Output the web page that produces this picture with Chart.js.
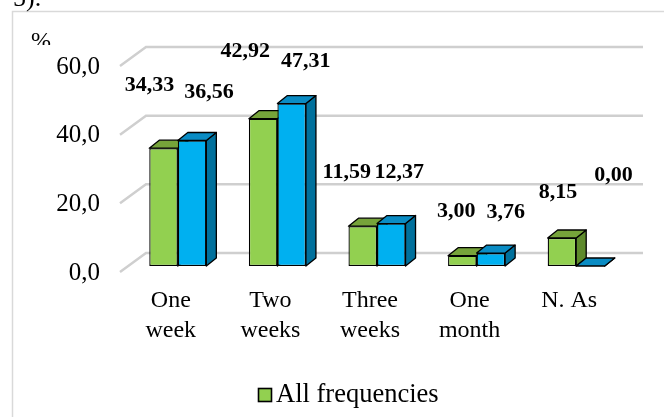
<!DOCTYPE html>
<html>
<head>
<meta charset="utf-8">
<script src="https://cdn.jsdelivr.net/npm/chart.js@4/dist/chart.umd.min.js"></script>
<style>
  html, body { margin: 0; padding: 0; background: #fff; }
  #wrap { width: 664px; height: 417px; }
</style>
</head>
<body>
<div id="wrap"><canvas id="freqChart"></canvas></div>
<script>
const categories = [['One', 'week'], ['Two', 'weeks'], ['Three', 'weeks'], ['One', 'month'], ['N. As']];
const allFrequencies = [34.33, 42.92, 11.59, 3.00, 8.15];
const otherSeries = [36.56, 47.31, 12.37, 3.76, 0.00];
const yTicks = [0, 20, 40, 60];

// hand placement of the value labels (Excel moved them around), [dx, dy] per bar
const labelNudge = [
  [[-14, -13], [-18, -17], [-16, -4], [-6, 6], [-4, 4]],
  [[17, 2], [14, 8], [8, -1], [15, 9], [23, -41]]
];

const SERIF = '"Liberation Serif", "Times New Roman", serif';
const DEPTH_X = 10, DEPTH_Y = -8;
const faceColors = [
  { top: '#76A33A', side: '#5E8A2C' },
  { top: '#0A8CC4', side: '#00709C' }
];

const fmt = (v) => v.toFixed(2).replace('.', ',');

const chart3d = {
  id: 'chart3d',
  beforeDraw(chart) {
    const ctx = chart.ctx;
    ctx.save();
    // outer frame (only top and left visible)
    ctx.strokeStyle = '#d9d9d9';
    ctx.lineWidth = 1.5;
    ctx.beginPath();
    ctx.moveTo(12.5, 417);
    ctx.lineTo(12.5, 11.5);
    ctx.lineTo(664, 11.5);
    ctx.stroke();
    // leftover caption from the page above
    ctx.fillStyle = '#000';
    ctx.font = '26px ' + SERIF;
    ctx.textBaseline = 'alphabetic';
    ctx.fillText('5).', 13, 6);
    ctx.beginPath();
    ctx.rect(20, 20, 60, 25);
    ctx.clip();
    ctx.font = '24px ' + SERIF;
    ctx.fillText('%', 31, 48);
    ctx.restore();
  },
  beforeDatasetsDraw(chart) {
    const ctx = chart.ctx;
    const area = chart.chartArea;
    const y = chart.scales.y;
    ctx.save();
    // back wall gridlines with the floor slant
    ctx.strokeStyle = '#cfcfcf';
    ctx.lineWidth = 2.5;
    yTicks.forEach((v) => {
      const py = y.getPixelForValue(v);
      ctx.beginPath();
      ctx.moveTo(area.left - 8, py + 6);
      ctx.lineTo(area.left + 18, py - 13);
      ctx.lineTo(area.right + 17, py - 13);
      ctx.stroke();
    });
    // top and side faces of the bars
    ctx.strokeStyle = '#000';
    ctx.lineWidth = 1.3;
    ctx.lineJoin = 'round';
    chart.data.datasets.forEach((ds, di) => {
      chart.getDatasetMeta(di).data.forEach((bar) => {
        const { x, y: top, base, width } = bar.getProps(['x', 'y', 'base', 'width'], true);
        const l = x - width / 2, r = x + width / 2;
        ctx.fillStyle = faceColors[di].side;
        ctx.beginPath();
        ctx.moveTo(r, top);
        ctx.lineTo(r + DEPTH_X, top + DEPTH_Y);
        ctx.lineTo(r + DEPTH_X, base + DEPTH_Y);
        ctx.lineTo(r, base);
        ctx.closePath();
        ctx.fill();
        ctx.stroke();
        ctx.fillStyle = faceColors[di].top;
        ctx.beginPath();
        ctx.moveTo(l, top);
        ctx.lineTo(l + DEPTH_X, top + DEPTH_Y);
        ctx.lineTo(r + DEPTH_X, top + DEPTH_Y);
        ctx.lineTo(r, top);
        ctx.closePath();
        ctx.fill();
        ctx.stroke();
      });
    });
    ctx.restore();
  },
  afterDatasetsDraw(chart) {
    const ctx = chart.ctx;
    ctx.save();
    ctx.fillStyle = '#000';
    ctx.font = 'bold 22px ' + SERIF;
    ctx.textAlign = 'center';
    ctx.textBaseline = 'middle';
    chart.data.datasets.forEach((ds, di) => {
      chart.getDatasetMeta(di).data.forEach((bar, i) => {
        const [dx, dy] = labelNudge[di][i];
        ctx.fillText(fmt(ds.data[i]), bar.x + dx, bar.y - 50 + dy);
      });
    });
    ctx.restore();
  },
  afterDraw(chart) {
    // legend: only the first series is listed in the original
    const ctx = chart.ctx;
    const ds = chart.data.datasets[0];
    ctx.save();
    ctx.fillStyle = ds.backgroundColor;
    ctx.strokeStyle = '#000';
    ctx.lineWidth = 1.6;
    ctx.fillRect(258.5, 388.5, 13, 13);
    ctx.strokeRect(258.5, 388.5, 13, 13);
    ctx.fillStyle = '#000';
    ctx.font = '26.5px ' + SERIF;
    ctx.textBaseline = 'middle';
    ctx.fillText(ds.label, 276, 395);
    ctx.restore();
  }
};

const ctxFreq = document.getElementById('freqChart').getContext('2d');

const freqChart = new Chart(ctxFreq, {
  type: 'bar',
  data: {
    labels: categories,
    datasets: [{
      label: 'All frequencies',
      data: allFrequencies,
      backgroundColor: '#92D050',
      borderColor: '#000',
      borderWidth: 1.3,
      borderSkipped: false
    }, {
      label: 'Other',
      data: otherSeries,
      backgroundColor: '#00B0F0',
      borderColor: '#000',
      borderWidth: 1.3,
      borderSkipped: false
    }]
  },
  options: {
    responsive: true,
    maintainAspectRatio: false,
    animation: false,
    layout: { padding: { left: 32, right: 38, top: 60, bottom: 51 } },
    datasets: {
      bar: { barPercentage: 1, categoryPercentage: 0.573 }
    },
    scales: {
      x: {
        grid: { display: false, drawTicks: false },
        border: { display: false },
        afterFit: (scale) => { scale.height = 100; },
        ticks: {
          color: '#000',
          font: { family: SERIF, size: 24, lineHeight: 1.25 },
          padding: 20,
          labelOffset: -7,
          maxRotation: 0
        }
      },
      y: {
        min: 0,
        max: 60,
        grid: { display: false, drawTicks: false },
        border: { display: false },
        afterBuildTicks: (scale) => { scale.ticks = yTicks.map((v) => ({ value: v })); },
        afterFit: (scale) => { scale.width = 96; },
        ticks: {
          color: '#000',
          font: { family: SERIF, size: 25 },
          padding: 28,
          labelOffset: 7,
          callback: (v) => v.toFixed(1).replace('.', ',')
        }
      }
    },
    plugins: {
      legend: { display: false },
      tooltip: { enabled: false }
    }
  },
  plugins: [chart3d]
});
</script>
</body>
</html>
